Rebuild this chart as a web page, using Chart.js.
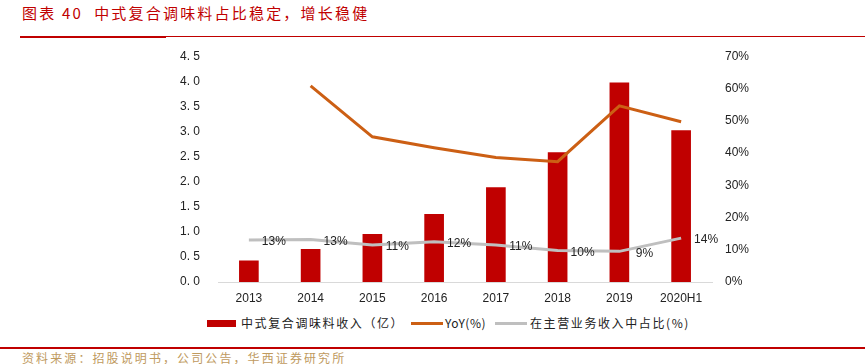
<!DOCTYPE html>
<html><head><meta charset="utf-8">
<script src="https://cdn.jsdelivr.net/npm/chart.js@4"></script>
<style>
html,body{margin:0;padding:0;background:#fff;width:865px;height:364px;overflow:hidden;position:relative;font-family:"Liberation Sans",Arial,sans-serif;}
#title{position:absolute;left:22px;top:2px;font-family:"Noto Sans CJK SC";font-size:15px;color:#c00000;letter-spacing:2.2px;white-space:nowrap;}
#l1{position:absolute;left:20px;top:36px;width:845px;height:1px;background:#c00000;}
#l1b{position:absolute;left:20px;top:36px;width:146px;height:2px;background:#c00000;}
#l2{position:absolute;left:0;top:347px;width:865px;height:2px;background:#c00000;}
#src{position:absolute;left:22px;top:349px;font-family:"Noto Sans CJK SC";font-size:12px;color:#c09a5e;white-space:nowrap;letter-spacing:2.1px;}
#wrap{position:absolute;left:0;top:31px;width:865px;height:279px;}
.lg{position:absolute;font-family:"Noto Sans CJK SC";font-size:12px;color:#222;white-space:nowrap;line-height:16px;top:315px;letter-spacing:1.6px;}
.sw{position:absolute;}
</style></head>
<body>
<div id="title">图表 40&nbsp; 中式复合调味料占比稳定，增长稳健</div>
<div id="l1"></div><div id="l1b"></div>
<div id="wrap"><canvas id="c" width="865" height="279"></canvas></div>
<div id="legend"></div>
<div id="l2"></div>
<div id="src">资料来源：招股说明书，公司公告，华西证券研究所</div>
<script>
const categories = ["2013","2014","2015","2016","2017","2018","2019","2020H1"];
const revenue = [0.42, 0.65, 0.95, 1.35, 1.88, 2.58, 3.97, 3.02];
const yoy = [null, 60.8, 45.0, 41.6, 38.6, 37.3, 54.6, 49.7];
const share = [13.0, 13.2, 11.5, 12.5, 11.5, 9.8, 9.5, 13.6];
const shareLabels = ["13%","13%","11%","12%","11%","10%","9%","14%"];
const leftTicks = ["0. 0","0. 5","1. 0","1. 5","2. 0","2. 5","3. 0","3. 5","4. 0","4. 5"];
const seriesNames = ["中式复合调味料收入（亿）","YoY(%)","在主营业务收入中占比(%)"];
const colors = ["#c00000","#cc5f14","#bfbfbf"];

// HTML legend
const lg = document.getElementById('legend');
lg.innerHTML =
 '<div class="sw" style="left:207px;top:320px;width:29px;height:7px;background:'+colors[0]+'"></div>'+
 '<div class="lg" style="left:241px">'+seriesNames[0]+'</div>'+
 '<div class="sw" style="left:411px;top:322px;width:32px;height:3px;background:'+colors[1]+'"></div>'+
 '<div class="lg" style="left:445px;letter-spacing:0.5px">'+seriesNames[1]+'</div>'+
 '<div class="sw" style="left:495px;top:322px;width:32px;height:3px;background:'+colors[2]+'"></div>'+
 '<div class="lg" style="left:530px">'+seriesNames[2]+'</div>';

const labelPlugin = {
  id:'shareLabels',
  afterDatasetsDraw(chart){
    const meta = chart.getDatasetMeta(2);
    const ctx = chart.ctx;
    ctx.save();
    ctx.font = '12px "Liberation Sans", Arial, sans-serif';
    ctx.fillStyle = '#222';
    ctx.textAlign = 'center';
    ctx.textBaseline = 'middle';
    meta.data.forEach((p,i)=>{
      ctx.fillText(shareLabels[i], p.x+25, p.y+2);
    });
    ctx.restore();
  }
};

new Chart(document.getElementById('c'), {
  data:{
    labels: categories,
    datasets:[
      {type:'bar', label:seriesNames[0], data:revenue, backgroundColor:colors[0], yAxisID:'y', barThickness:19, order:3},
      {type:'line', label:seriesNames[1], data:yoy, borderColor:colors[1], borderWidth:3, pointRadius:0, yAxisID:'y1', tension:0, spanGaps:false, order:1},
      {type:'line', label:seriesNames[2], data:share, borderColor:colors[2], borderWidth:3, pointRadius:0, yAxisID:'y1', tension:0, order:2}
    ]
  },
  options:{
    responsive:false, animation:false,
    layout:{padding:{top:6,left:0,right:0,bottom:0}},
    plugins:{legend:{display:false}, tooltip:{enabled:false}},
    scales:{
      x:{grid:{display:false,drawTicks:false}, border:{display:true,color:'#d9d9d9',width:1},
         ticks:{color:'#222',font:{size:12,family:'"Liberation Sans", Arial, sans-serif'},padding:9},
         afterFit(s){s.height=28;}},
      y:{position:'left', min:0, max:4.5, grid:{display:false,drawTicks:false}, border:{display:false},
         ticks:{stepSize:0.5, color:'#222', font:{size:12,family:'"Liberation Sans", Arial, sans-serif'}, padding:18,
           callback:(v,i)=>leftTicks[i]},
         afterFit(s){s.width=218;}},
      y1:{position:'right', min:0, max:70, grid:{display:false,drawTicks:false}, border:{display:false},
         ticks:{stepSize:10, color:'#222', font:{size:12,family:'"Liberation Sans", Arial, sans-serif'}, padding:13,
           callback:v=>v+'%'},
         afterFit(s){s.width=153;}}
    }
  },
  plugins:[labelPlugin]
});
</script>
</body></html>
